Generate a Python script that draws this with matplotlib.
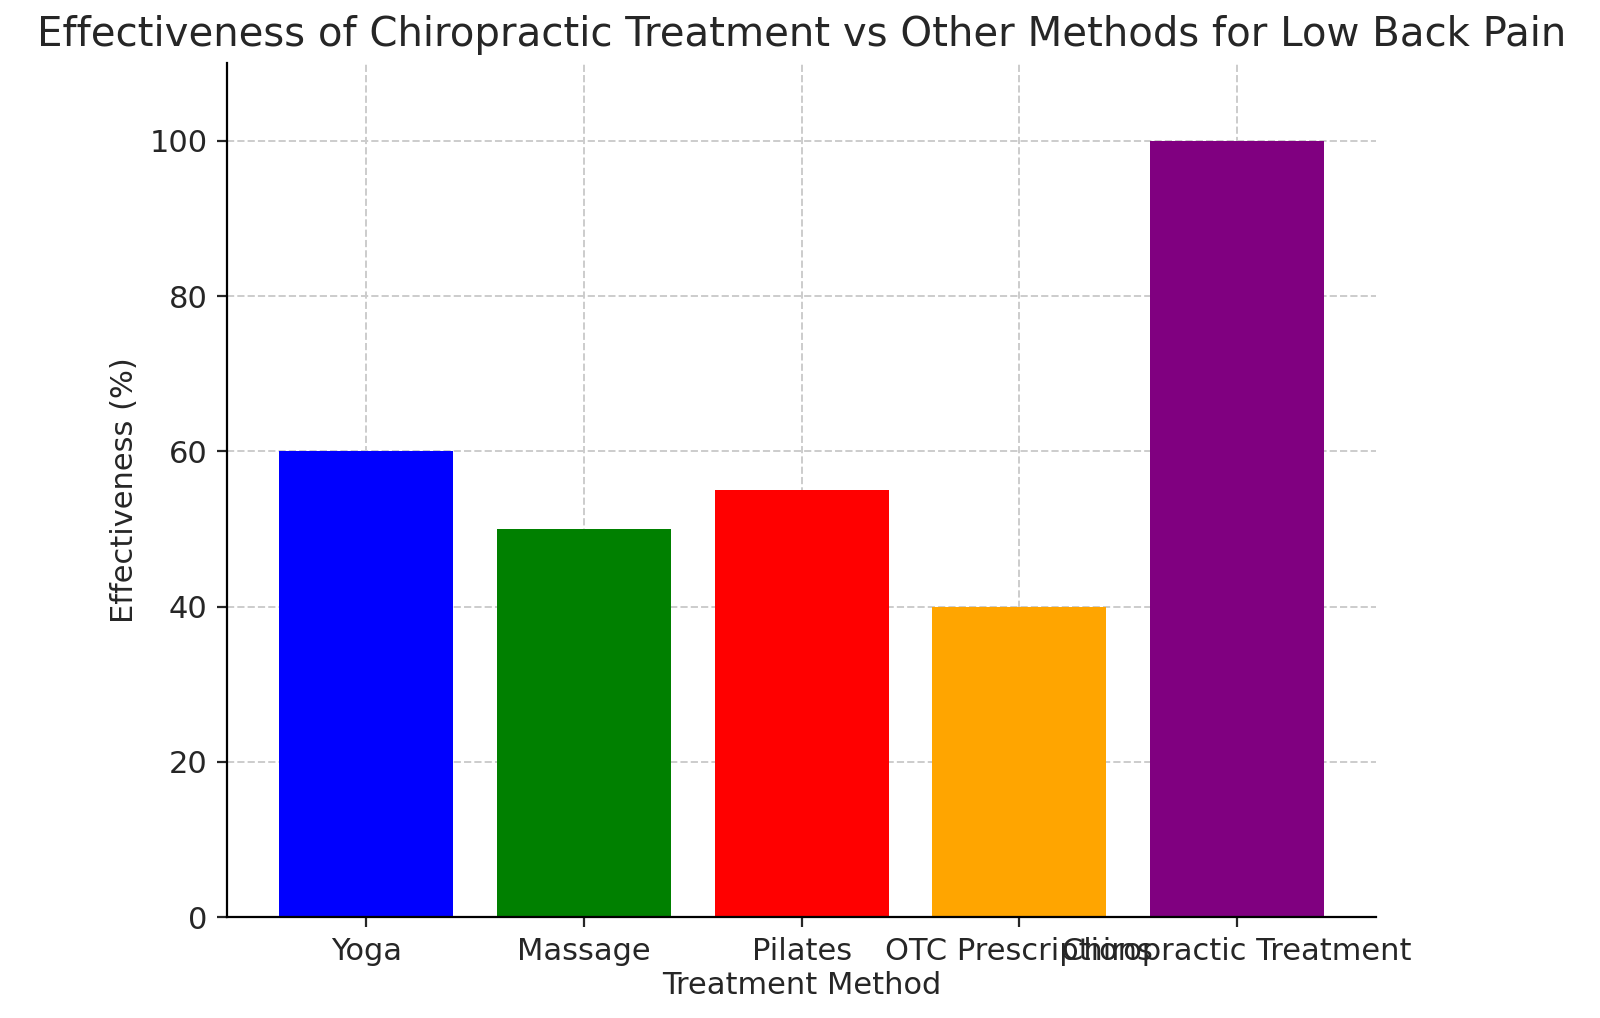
import matplotlib
matplotlib.use("Agg")
import matplotlib.pyplot as plt

categories = ["Yoga", "Massage", "Pilates", "OTC Prescriptions", "Chiropractic Treatment"]
values = [60, 50, 55, 40, 100]
colors = ["blue", "green", "red", "orange", "purple"]

fig = plt.figure(figsize=(8, 5.09), dpi=200)
ax = fig.add_axes([0.142, 0.099, 0.718, 0.839])
ax.bar(categories, values, color=colors, zorder=2)
ax.set_ylim(0, 110)
ax.set_xlim(-0.64, 4.64)
ax.grid(True, linestyle="--", color="#cccccc", linewidth=0.7, zorder=3)
for s in ["top", "right"]:
    ax.spines[s].set_visible(False)
tc = "#262626"
ax.tick_params(labelsize=11, colors=tc)
ax.set_title("Effectiveness of Chiropractic Treatment vs Other Methods for Low Back Pain", fontsize=14.5, color=tc)
ax.set_xlabel("Treatment Method", fontsize=11, color=tc, labelpad=2)
ax.set_ylabel("Effectiveness (%)", fontsize=11, color=tc)
fig.savefig("out.png", dpi=200)
